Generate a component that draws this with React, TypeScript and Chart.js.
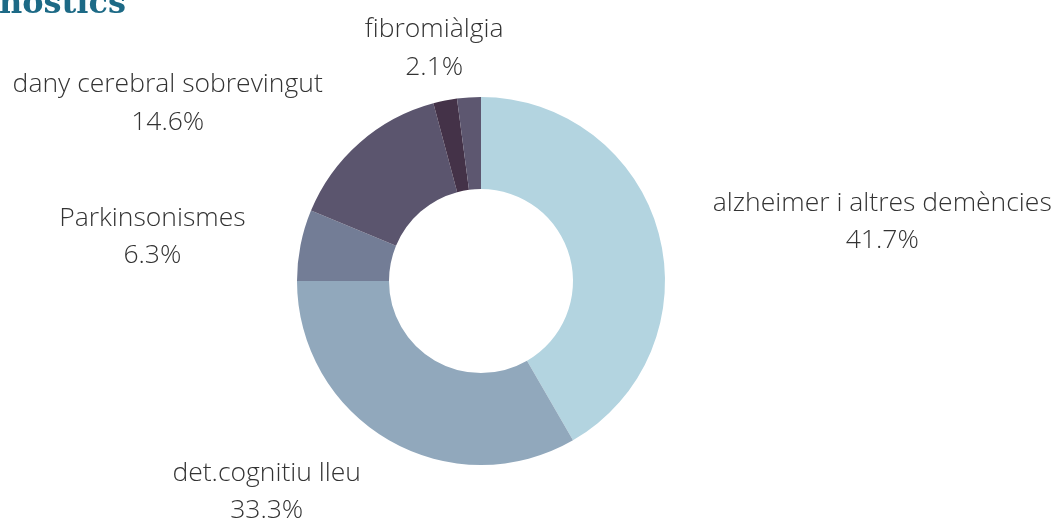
import React, { useEffect, useRef } from "react";
import { Chart, registerables } from "chart.js";

Chart.register(...registerables);

const categories = [
  "alzheimer i altres demències",
  "det.cognitiu lleu",
  "Parkinsonismes",
  "dany cerebral sobrevingut",
  "fibromiàlgia",
  "",
];
const counts = [20, 16, 3, 7, 1, 1];
const colors = ["#b3d4e0", "#91a8bc", "#737d96", "#5b556e", "#443248", "#5d5770"];
const titleText = "Diagnòstics";

const FONT = "'Open Sans', 'DejaVu Sans', sans-serif";

const outLabels = {
  id: "outLabels",
  afterDatasetsDraw(chart: any) {
    const ctx = chart.ctx;
    const meta = chart.getDatasetMeta(0);
    const data = chart.data.datasets[0].data as number[];
    const total = data.reduce((a: number, b: number) => a + b, 0);
    const labels = chart.data.labels as string[];
    ctx.save();
    ctx.fillStyle = "#333333";
    ctx.font = `300 26.5px ${FONT}`;
    ctx.textBaseline = "middle";
    meta.data.forEach((arc: any, i: number) => {
      if (!labels[i]) return;
      const { x, y, startAngle, endAngle, outerRadius } = arc.getProps(
        ["x", "y", "startAngle", "endAngle", "outerRadius"],
        true
      );
      const mid = (startAngle + endAngle) / 2;
      const r = outerRadius + 56;
      const px = x + Math.cos(mid) * r;
      const py = y + Math.sin(mid) * r + 3;
      const pct = ((data[i] / total) * 100).toFixed(1) + "%";
      const lines = [labels[i], pct];
      const widths = lines.map((l) => ctx.measureText(l).width);
      const bw = Math.max(...widths);
      const c = Math.cos(mid);
      let cx: number;
      if (Math.abs(c) < 0.3) cx = px;
      else if (c > 0) cx = px + bw / 2;
      else cx = px - bw / 2;
      const lh = 37.5;
      ctx.textAlign = "center";
      ctx.fillText(lines[0], cx, py - lh / 2);
      ctx.fillText(lines[1], cx, py + lh / 2);
    });
    ctx.restore();
  },
};

const titlePlugin = {
  id: "titleCut",
  afterDraw(chart: any) {
    const ctx = chart.ctx;
    ctx.save();
    ctx.fillStyle = "#1d6a86";
    ctx.font = "bold 32px 'DejaVu Serif', serif";
    ctx.textAlign = "right";
    ctx.textBaseline = "alphabetic";
    ctx.fillText(titleText, 126, 13);
    ctx.restore();
  },
};

export default function App() {
  const ref = useRef<HTMLCanvasElement | null>(null);
  useEffect(() => {
    if (!ref.current) return;
    const chart = new Chart(ref.current, {
      type: "doughnut",
      data: {
        labels: categories,
        datasets: [
          {
            data: counts,
            backgroundColor: colors,
            borderWidth: 0,
          },
        ],
      },
      options: {
        responsive: false,
        animation: false,
        cutout: "50%",
        layout: { padding: { top: 97, bottom: 54, left: 297, right: 391 } },
        plugins: {
          legend: { display: false },
          tooltip: { enabled: false },
          title: { display: false },
        },
      },
      plugins: [outLabels, titlePlugin],
    });
    return () => chart.destroy();
  }, []);
  return (
    <div style={{ position: "absolute", left: 0, top: 0, width: 1056, height: 519, background: "#fff" }}>
      <canvas ref={ref} width={1056} height={519} style={{ display: "block" }} />
    </div>
  );
}
